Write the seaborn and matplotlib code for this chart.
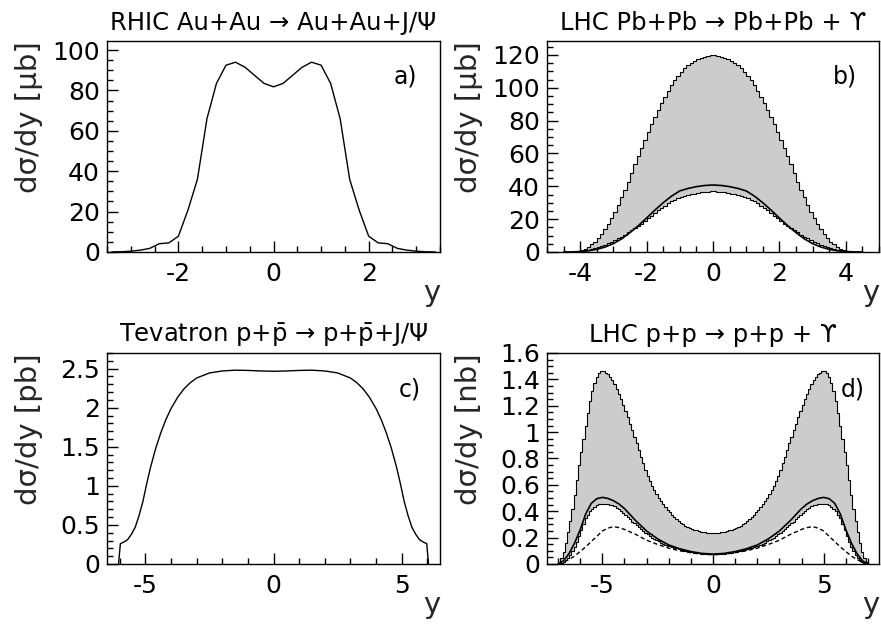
import numpy as np
import matplotlib
matplotlib.use("Agg")
import matplotlib.pyplot as plt
from matplotlib.ticker import MultipleLocator, FuncFormatter
import seaborn as sns


# a) RHIC Au+Au -> Au+Au+J/Psi
a_y = np.round(np.arange(-3.4, 3.41, 0.2), 1)
a_sig = [0.0, 0.1, 0.4, 0.9, 1.8, 4.1, 4.5, 7.8, 20.7, 36.0, 66.0, 83.5, 92.5, 94.0,
         91.5, 87.5, 83.5, 81.8, 83.5, 87.5, 91.5, 94.0, 92.5, 83.5, 66.0, 36.0,
         20.7, 7.8, 4.5, 4.1, 1.8, 0.9, 0.4, 0.1, 0.0]

# b) LHC Pb+Pb -> Pb+Pb + Upsilon (histogram band, bins of 0.1, + smooth curve)
b_edges = np.round(np.arange(-4.5, 4.51, 0.1), 1)
b_upper = [0.02, 0.08, 0.2, 0.4, 0.75, 1.3, 2.1, 3.2, 4.6, 6.3,
           8.6, 11.1, 14.0, 17.3, 20.8, 24.5, 28.7, 33.2, 37.8, 42.4,
           47.8, 53.3, 58.5, 63.5, 68.4, 73.2, 77.9, 82.3, 86.5, 90.5,
           94.6, 98.3, 101.7, 104.7, 107.2, 109.5, 111.8, 113.7, 115.2, 116.5,
           117.5, 118.4, 119.0, 119.5, 119.9,
           119.9, 119.5, 119.0, 118.4, 117.5, 116.5, 115.2, 113.7, 111.8, 109.5,
           107.2, 104.7, 101.7, 98.3, 94.6, 90.5, 86.5, 82.3, 77.9, 73.2,
           68.4, 63.5, 58.5, 53.3, 47.8, 42.4, 37.8, 33.2, 28.7, 24.5,
           20.8, 17.3, 14.0, 11.1, 8.6, 6.3, 4.6, 3.2, 2.1, 1.3,
           0.75, 0.4, 0.2, 0.08, 0.02]
b_lower = [0.02, 0.05, 0.12, 0.25, 0.4, 0.65, 0.95, 1.3, 1.8, 2.3,
           2.9, 3.6, 4.4, 5.3, 6.3, 7.3, 8.3, 9.4, 10.6, 11.9,
           13.1, 14.3, 15.7, 17.2, 18.8, 20.4, 22.0, 23.7, 25.3, 26.8,
           28.3, 29.6, 30.8, 31.8, 32.7, 33.4, 34.1, 34.7, 35.2, 35.6,
           36.0, 36.3, 36.5, 36.7, 36.9,
           36.9, 36.7, 36.5, 36.3, 36.0, 35.6, 35.2, 34.7, 34.1, 33.4,
           32.7, 31.8, 30.8, 29.6, 28.3, 26.8, 25.3, 23.7, 22.0, 20.4,
           18.8, 17.2, 15.7, 14.3, 13.1, 11.9, 10.6, 9.4, 8.3, 7.3,
           6.3, 5.3, 4.4, 3.6, 2.9, 2.3, 1.8, 1.3, 0.95, 0.65,
           0.4, 0.25, 0.12, 0.05, 0.02]
b_y = np.linspace(-4.5, 4.5, 37)
b_curve = [0.0, 0.05, 0.2, 0.7, 1.6, 3.0, 5.1, 8.0, 11.8, 16.0, 20.7, 25.5, 30.0,
           34.0, 37.2, 38.7, 39.8, 40.5, 40.8, 40.5, 39.8, 38.7, 37.2, 34.0, 30.0,
           25.5, 20.7, 16.0, 11.8, 8.0, 5.1, 3.0, 1.6, 0.7, 0.2, 0.05, 0.0]

# c) Tevatron p+pbar -> p+pbar+J/Psi
c_y = [-6.05, -5.98, -5.85, -5.7, -5.55, -5.4, -5.25, -5.1, -4.95, -4.8, -4.6, -4.4,
       -4.2, -4.0, -3.75, -3.5, -3.25, -3.0, -2.5, -2.0, -1.5, -1.0, -0.5, 0.0,
       0.5, 1.0, 1.5, 2.0, 2.5, 3.0, 3.25, 3.5, 3.75, 4.0, 4.2, 4.4, 4.6, 4.8,
       4.95, 5.1, 5.25, 5.4, 5.55, 5.7, 5.85, 5.98, 6.05]
c_sig = [0.0, 0.26, 0.28, 0.31, 0.38, 0.47, 0.62, 0.80, 1.03, 1.24, 1.48, 1.68,
         1.85, 1.99, 2.13, 2.24, 2.32, 2.38, 2.445, 2.47, 2.48, 2.477, 2.47, 2.466,
         2.47, 2.477, 2.48, 2.47, 2.445, 2.38, 2.32, 2.24, 2.13, 1.99, 1.85, 1.68,
         1.48, 1.24, 1.03, 0.80, 0.62, 0.47, 0.38, 0.31, 0.28, 0.26, 0.0]

# d) LHC p+p -> p+p + Upsilon (bins of 0.1)
d_edges = np.round(np.arange(-7.0, 7.01, 0.1), 1)
d_upper = [0.015, 0.045, 0.090, 0.160, 0.240, 0.325, 0.415, 0.525, 0.640, 0.750,
           0.850, 0.950, 1.050, 1.145, 1.235, 1.310, 1.375, 1.420, 1.450, 1.460,
           1.460, 1.452, 1.438, 1.418, 1.393, 1.362, 1.327, 1.290, 1.250, 1.208,
           1.163, 1.115, 1.065, 1.015, 0.965, 0.915, 0.865, 0.815, 0.765, 0.715,
           0.667, 0.627, 0.590, 0.558, 0.529, 0.502, 0.477, 0.453, 0.431, 0.410,
           0.391, 0.373, 0.356, 0.340, 0.326, 0.313, 0.301, 0.291, 0.281, 0.273,
           0.266, 0.260, 0.254, 0.250, 0.246, 0.243, 0.239, 0.237, 0.236, 0.234,
           0.234, 0.236, 0.237, 0.239, 0.243, 0.246, 0.250, 0.254, 0.260, 0.266,
           0.273, 0.281, 0.291, 0.301, 0.313, 0.326, 0.340, 0.356, 0.373, 0.391,
           0.410, 0.431, 0.453, 0.477, 0.502, 0.529, 0.558, 0.590, 0.627, 0.667,
           0.715, 0.765, 0.815, 0.865, 0.915, 0.965, 1.015, 1.065, 1.115, 1.163,
           1.208, 1.250, 1.290, 1.327, 1.362, 1.393, 1.418, 1.438, 1.452, 1.460,
           1.460, 1.450, 1.420, 1.375, 1.310, 1.235, 1.145, 1.050, 0.950, 0.850,
           0.750, 0.640, 0.525, 0.415, 0.325, 0.240, 0.160, 0.090, 0.045, 0.015]
d_lower = [0.002, 0.007, 0.015, 0.027, 0.044, 0.066, 0.095, 0.130, 0.170, 0.215,
           0.260, 0.305, 0.345, 0.375, 0.400, 0.420, 0.435, 0.445, 0.452, 0.455,
           0.456, 0.455, 0.453, 0.450, 0.444, 0.436, 0.426, 0.415, 0.402, 0.388,
           0.372, 0.355, 0.338, 0.322, 0.307, 0.292, 0.277, 0.263, 0.250, 0.237,
           0.224, 0.212, 0.200, 0.190, 0.180, 0.171, 0.162, 0.154, 0.147, 0.140,
           0.134, 0.128, 0.123, 0.118, 0.113, 0.108, 0.104, 0.100, 0.096, 0.092,
           0.089, 0.086, 0.083, 0.081, 0.079, 0.077, 0.076, 0.075, 0.074, 0.073,
           0.073, 0.074, 0.075, 0.076, 0.077, 0.079, 0.081, 0.083, 0.086, 0.089,
           0.092, 0.096, 0.100, 0.104, 0.108, 0.113, 0.118, 0.123, 0.128, 0.134,
           0.140, 0.147, 0.154, 0.162, 0.171, 0.180, 0.190, 0.200, 0.212, 0.224,
           0.237, 0.250, 0.263, 0.277, 0.292, 0.307, 0.322, 0.338, 0.355, 0.372,
           0.388, 0.402, 0.415, 0.426, 0.436, 0.444, 0.450, 0.453, 0.455, 0.456,
           0.455, 0.452, 0.445, 0.435, 0.420, 0.400, 0.375, 0.345, 0.305, 0.260,
           0.215, 0.170, 0.130, 0.095, 0.066, 0.044, 0.027, 0.015, 0.007, 0.002]
d_y_solid = [-7.0, -6.75, -6.5, -6.25, -6.0, -5.75, -5.5, -5.25, -5.0, -4.75, -4.5,
             -4.25, -4.0, -3.75, -3.5, -3.0, -2.5, -2.0, -1.5, -1.0, -0.5, 0.0,
             0.5, 1.0, 1.5, 2.0, 2.5, 3.0, 3.5, 3.75, 4.0, 4.25, 4.5, 4.75, 5.0,
             5.25, 5.5, 5.75, 6.0, 6.25, 6.5, 6.75, 7.0]
d_solid = [0.0, 0.025, 0.08, 0.16, 0.26, 0.38, 0.46, 0.495, 0.505, 0.497, 0.48,
           0.455, 0.42, 0.375, 0.33, 0.25, 0.19, 0.144, 0.115, 0.094, 0.08, 0.075,
           0.08, 0.094, 0.115, 0.144, 0.19, 0.25, 0.33, 0.375, 0.42, 0.455, 0.48,
           0.497, 0.505, 0.495, 0.46, 0.38, 0.26, 0.16, 0.08, 0.025, 0.0]
d_y_dash = [-7.0, -6.75, -6.5, -6.25, -6.0, -5.75, -5.5, -5.25, -5.0, -4.75, -4.5,
            -4.25, -4.0, -3.5, -3.0, -2.5, -2.0, -1.5, -1.0, -0.5, 0.0, 0.5, 1.0,
            1.5, 2.0, 2.5, 3.0, 3.5, 4.0, 4.25, 4.5, 4.75, 5.0, 5.25, 5.5, 5.75,
            6.0, 6.25, 6.5, 6.75, 7.0]
d_dash = [0.0, 0.012, 0.035, 0.06, 0.095, 0.13, 0.17, 0.21, 0.25, 0.272, 0.283,
          0.276, 0.262, 0.225, 0.18, 0.148, 0.12, 0.1, 0.085, 0.074, 0.07, 0.074,
          0.085, 0.1, 0.12, 0.148, 0.18, 0.225, 0.262, 0.276, 0.283, 0.272, 0.25,
          0.21, 0.17, 0.13, 0.095, 0.06, 0.035, 0.012, 0.0]


sns.set_theme(style="ticks")
plt.rcParams["font.family"] = ["DejaVu Sans"]
plt.rcParams["mathtext.fontset"] = "dejavusans"
plt.rcParams["axes.unicode_minus"] = False
plt.rcParams["axes.edgecolor"] = "black"
plt.rcParams["text.color"] = "black"
plt.rcParams["xtick.color"] = "black"
plt.rcParams["ytick.color"] = "black"

GREY = "#cccccc"

fig = plt.figure(figsize=(8.81, 6.24), dpi=100)
ax_a = fig.add_axes([0.1215, 0.5962, 0.3780, 0.3381])
ax_b = fig.add_axes([0.6209, 0.5962, 0.3768, 0.3381])
ax_c = fig.add_axes([0.1215, 0.0962, 0.3780, 0.3381])
ax_d = fig.add_axes([0.6209, 0.0962, 0.3768, 0.3381])


def style(ax, xlim, ylim, xstep, ystep, ylabel, title, tag, tagpos):
    ax.set_xlim(*xlim)
    ax.set_ylim(*ylim)
    ax.xaxis.set_major_locator(MultipleLocator(xstep[0]))
    ax.xaxis.set_minor_locator(MultipleLocator(xstep[1]))
    ax.yaxis.set_major_locator(MultipleLocator(ystep[0]))
    ax.yaxis.set_minor_locator(MultipleLocator(ystep[1]))
    fmt = FuncFormatter(lambda v, p: f"{v:g}" if abs(v) > 1e-9 else "0")
    ax.xaxis.set_major_formatter(fmt)
    ax.yaxis.set_major_formatter(fmt)
    ax.tick_params(which="both", direction="in", top=False, right=False,
                   width=1.0, labelsize=18)
    ax.tick_params(axis="x", which="both", pad=7)
    ax.tick_params(axis="y", which="both", pad=5)
    ax.tick_params(which="major", length=8)
    ax.tick_params(which="minor", length=4)
    for s in ax.spines.values():
        s.set_visible(True)
        s.set_linewidth(1.0)
        s.set_color("black")
    ax.set_xlabel("y", fontsize=21, loc="right")
    ax.xaxis.set_label_coords(1.0, -0.128)
    ax.set_ylabel(ylabel, fontsize=21, loc="top")
    ax.yaxis.set_label_coords(-0.192, 1.0)
    ax.set_title(title, fontsize=17.5, pad=8)
    ax.text(tagpos[0], tagpos[1], tag, transform=ax.transAxes,
            fontsize=17, ha="center", va="center")


# a)
sns.lineplot(x=a_y, y=a_sig, ax=ax_a, color="black", lw=1.0,
             estimator=None, sort=False)
style(ax_a, (-3.5, 3.5), (0, 104.5), (2, 0.5), (20, 5),
      "dσ/dy [μb]", "RHIC Au+Au → Au+Au+J/Ψ", "a)", (0.895, 0.83))

# b)
ax_b.stairs(b_upper, b_edges, baseline=b_lower, fill=True, color=GREY, lw=0)
ax_b.stairs(b_upper, b_edges, baseline=None, color="black", lw=0.8)
ax_b.stairs(b_lower, b_edges, baseline=None, color="black", lw=0.8)
sns.lineplot(x=b_y, y=b_curve, ax=ax_b, color="black", lw=1.2,
             estimator=None, sort=False)
style(ax_b, (-5, 5), (0, 128.5), (2, 0.5), (20, 5),
      "dσ/dy [μb]", "LHC Pb+Pb → Pb+Pb + ϒ", "b)", (0.898, 0.83))

# c)
sns.lineplot(x=c_y, y=c_sig, ax=ax_c, color="black", lw=1.0,
             estimator=None, sort=False)
style(ax_c, (-6.5, 6.5), (0, 2.7), (5, 1), (0.5, 0.1),
      "dσ/dy [pb]", r"Tevatron p+$\bar{\mathrm{p}}$ → p+$\bar{\mathrm{p}}$+J/Ψ",
      "c)", (0.91, 0.825))

# d)
ax_d.stairs(d_upper, d_edges, baseline=d_lower, fill=True, color=GREY, lw=0)
ax_d.stairs(d_upper, d_edges, baseline=None, color="black", lw=0.8)
ax_d.stairs(d_lower, d_edges, baseline=None, color="black", lw=0.8)
sns.lineplot(x=d_y_solid, y=d_solid, ax=ax_d, color="black", lw=1.2,
             estimator=None, sort=False)
sns.lineplot(x=d_y_dash, y=d_dash, ax=ax_d, color="black", lw=1.0,
             linestyle=(0, (3, 2)), estimator=None, sort=False)
style(ax_d, (-7.5, 7.5), (0, 1.6), (5, 1), (0.2, 0.05),
      "dσ/dy [nb]", "LHC p+p → p+p + ϒ", "d)", (0.92, 0.825))

fig.savefig("out.png", dpi=100)
